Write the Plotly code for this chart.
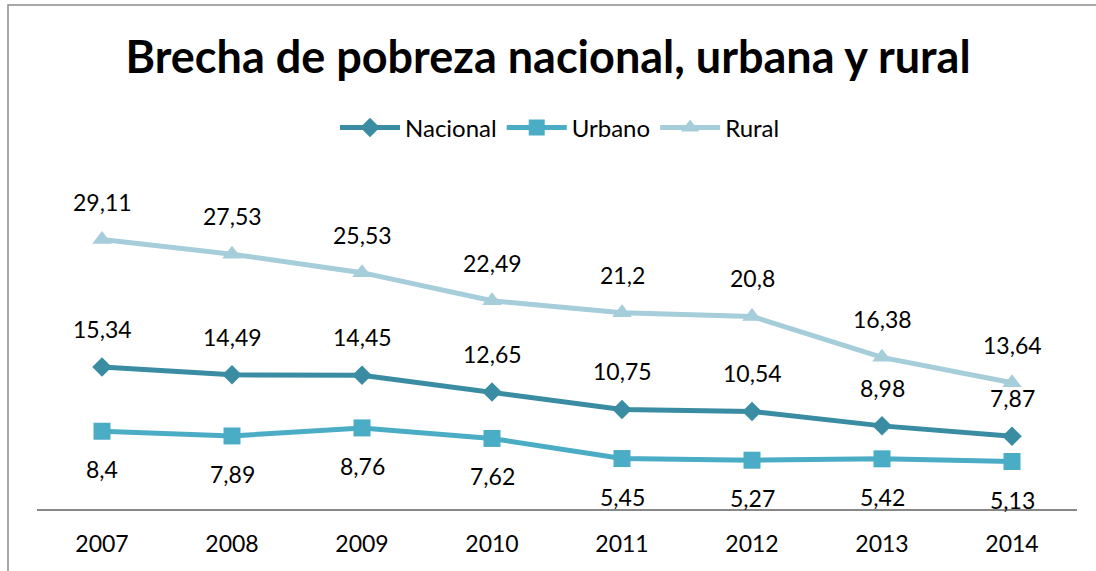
import plotly.graph_objects as go

years = ["2007", "2008", "2009", "2010", "2011", "2012", "2013", "2014"]
nacional = [15.34, 14.49, 14.45, 12.65, 10.75, 10.54, 8.98, 7.87]
urbano = [8.4, 7.89, 8.76, 7.62, 5.45, 5.27, 5.42, 5.13]
rural = [29.11, 27.53, 25.53, 22.49, 21.2, 20.8, 16.38, 13.64]

W, H = 1096, 571
ML, MR, MT, MB = 37, 19, 185, 62
PW, PH = W - ML - MR, H - MT - MB
FONT = "Lato"

series = [
    ("Nacional", nacional, "#3A8CA2", "diamond", 15, 38),
    ("Urbano", urbano, "#4BACC6", "square", 17, -38),
    ("Rural", rural, "#A5CDDA", "triangle-up", 17, 38),
]

fig = go.Figure()
annotations = []
for name, vals, color, sym, msize, shift in series:
    fig.add_trace(go.Scatter(
        x=years, y=vals, name=name, mode="lines+markers",
        line=dict(color=color, width=5),
        marker=dict(symbol=sym, size=msize, color=color),
    ))
    for i, v in enumerate(vals):
        annotations.append(dict(
            x=i, y=v, xref="x", yref="y", text=str(v).replace(".", ","),
            showarrow=False, yshift=shift,
            font=dict(family=FONT, size=23, color="#000000"),
        ))

def px_x(p):
    return (p - ML) / PW

def px_y(p):
    return (H - MB - p) / PH

fig.update_layout(
    width=W, height=H,
    margin=dict(l=ML, r=MR, t=MT, b=MB),
    paper_bgcolor="white", plot_bgcolor="white",
    title=dict(
        text="<b>Brecha de pobreza nacional, urbana y rural</b>",
        x=0.5, xanchor="center", y=1 - 57 / H, yanchor="middle",
        font=dict(family=FONT, size=45, color="#000000"),
    ),
    legend=dict(
        orientation="h", x=px_x(560), xanchor="center",
        y=px_y(128), yanchor="middle",
        font=dict(family=FONT, size=24, color="#000000"),
        bgcolor="rgba(0,0,0,0)", itemwidth=60, tracegroupgap=0,
    ),
    xaxis=dict(
        type="category", showgrid=False, showline=True,
        linecolor="#888888", linewidth=1.5, ticks="",
        tickfont=dict(family=FONT, size=23, color="#000000"),
        ticklabelstandoff=14, range=[-0.5, 7.5],
    ),
    yaxis=dict(
        range=[0, 35], showgrid=False, showticklabels=False,
        zeroline=False, showline=False, ticks="",
    ),
    annotations=annotations,
    shapes=[dict(
        type="rect", xref="paper", yref="paper",
        x0=px_x(8), x1=px_x(1110), y0=px_y(590), y1=px_y(5),
        line=dict(color="#8C8C8C", width=1.5), layer="below",
    )],
    showlegend=True,
)

fig.write_html(
    "out.html",
    config={"displayModeBar": False},
    post_script="document.body.style.margin='0';document.body.style.overflow='hidden';",
)
